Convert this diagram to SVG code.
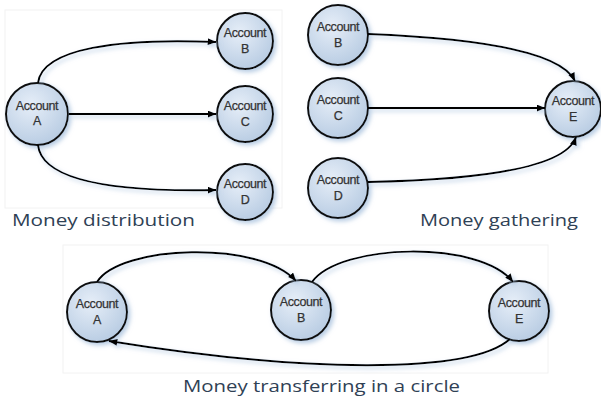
<svg xmlns="http://www.w3.org/2000/svg" width="601" height="405" viewBox="0 0 601 405">
  <defs>
    <radialGradient id="nodeFill" cx="40%" cy="35%" r="70%">
      <stop offset="0" stop-color="#e6eef8"/>
      <stop offset="1" stop-color="#b7cbe2"/>
    </radialGradient>
    <filter id="soft" filterUnits="userSpaceOnUse" x="0" y="0" width="601" height="405">
      <feDropShadow dx="2.5" dy="2.5" stdDeviation="2" flood-color="#a9c2de" flood-opacity="0.8"/>
    </filter>
    <marker id="arrow" viewBox="0 0 10 8" refX="9.5" refY="4" markerWidth="9" markerHeight="7" markerUnits="userSpaceOnUse" orient="auto">
      <path d="M0,0 L10,4 L0,8 Z" fill="#000"/>
    </marker>
    <style>
      .panel { fill: none; stroke: #f2f2f2; stroke-width: 1; }
      .node circle { fill: url(#nodeFill); stroke: #111; stroke-width: 2; filter: url(#soft); }
      .node text { font-family: "Liberation Sans", Arial, sans-serif; font-size: 12.5px; fill: #333333; stroke: #333333; stroke-width: 0.25; text-anchor: middle; letter-spacing: -0.4px; }
      .edge { fill: none; stroke: #000; stroke-width: 2; marker-end: url(#arrow); filter: url(#soft); }
      .caption { font-family: "Open Sans", "Liberation Sans", sans-serif; font-size: 17px; fill: #2f4155; }
    </style>
  </defs>

  <rect width="601" height="405" fill="#ffffff"/>

  <!-- faint panel frames -->
  <rect class="panel" x="5" y="10" width="277" height="198"/>
  <rect class="panel" x="63" y="245" width="485" height="128"/>

  <!-- distribution nodes -->
  <g id="dist-a" class="node">
    <circle cx="37" cy="114" r="31"/>
    <text x="37" y="110">Account</text>
    <text x="37" y="125">A</text>
  </g>
  <g id="dist-b" class="node">
    <circle cx="245" cy="41" r="28"/>
    <text x="245" y="37">Account</text>
    <text x="245" y="53">B</text>
  </g>
  <g id="dist-c" class="node">
    <circle cx="245" cy="114" r="28"/>
    <text x="245" y="110">Account</text>
    <text x="245" y="126">C</text>
  </g>
  <g id="dist-d" class="node">
    <circle cx="245" cy="192" r="28"/>
    <text x="245" y="188">Account</text>
    <text x="245" y="204">D</text>
  </g>

  <!-- gathering nodes -->
  <g id="gath-b" class="node">
    <circle cx="338" cy="35" r="30"/>
    <text x="338" y="31">Account</text>
    <text x="338" y="47">B</text>
  </g>
  <g id="gath-c" class="node">
    <circle cx="338" cy="108" r="30"/>
    <text x="338" y="104">Account</text>
    <text x="338" y="120">C</text>
  </g>
  <g id="gath-d" class="node">
    <circle cx="338" cy="188" r="30"/>
    <text x="338" y="184">Account</text>
    <text x="338" y="200">D</text>
  </g>
  <g id="gath-e" class="node">
    <circle cx="573" cy="109" r="28"/>
    <text x="573" y="105">Account</text>
    <text x="573" y="121">E</text>
  </g>

  <!-- circular transfer nodes -->
  <g id="circ-a" class="node">
    <circle cx="97" cy="312" r="30"/>
    <text x="97" y="308">Account</text>
    <text x="97" y="324">A</text>
  </g>
  <g id="circ-b" class="node">
    <circle cx="301" cy="310" r="30"/>
    <text x="301" y="306">Account</text>
    <text x="301" y="322">B</text>
  </g>
  <g id="circ-e" class="node">
    <circle cx="519" cy="311" r="30"/>
    <text x="519" y="307">Account</text>
    <text x="519" y="323">E</text>
  </g>

  <!-- connectors -->
  <g id="connectors">
    <!-- distribution -->
    <path class="edge" d="M38,83 C42,48 120,38 216,42"/>
    <path class="edge" d="M69,114 L216,114"/>
    <path class="edge" d="M38,145 C42,182 120,192 216,190"/>
    <!-- gathering -->
    <path class="edge" d="M368,34 C470,38 560,50 575,81"/>
    <path class="edge" d="M368,108 L545,108"/>
    <path class="edge" d="M368,182 C470,180 565,170 576,137"/>
    <!-- circle -->
    <path class="edge" d="M97,282 C120,245 260,240 296,281"/>
    <path class="edge" d="M312,282 C340,243 480,240 513,282"/>
    <path class="edge" d="M510,339 C470,375 300,372 109,341"/>
  </g>

  <!-- captions -->
  <text class="caption" x="12" y="226" textLength="183" lengthAdjust="spacingAndGlyphs">Money distribution</text>
  <text class="caption" x="420" y="226" textLength="158" lengthAdjust="spacingAndGlyphs">Money gathering</text>
  <text class="caption" x="183" y="392" textLength="277" lengthAdjust="spacingAndGlyphs">Money transferring in a circle</text>
</svg>
